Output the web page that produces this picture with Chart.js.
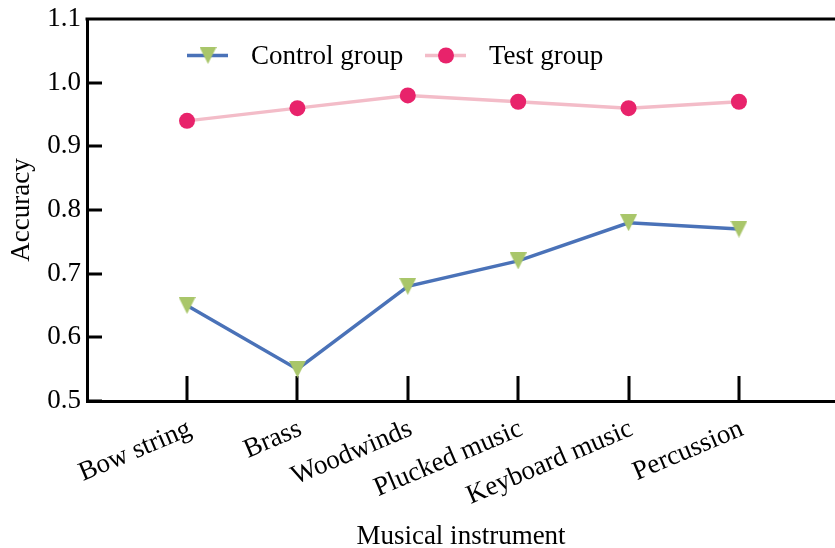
<!DOCTYPE html>
<html>
<head>
<meta charset="utf-8">
<script src="https://cdn.jsdelivr.net/npm/chart.js@4/dist/chart.umd.min.js"></script>
<style>
  html, body { margin: 0; padding: 0; background: #fff; }
  #wrap { width: 835px; height: 548px; }
</style>
</head>
<body>
<div id="wrap"><canvas id="c" width="835" height="548"></canvas></div>
<script>
// Instrument categories and accuracy per group
const categories = ['Bow string', 'Brass', 'Woodwinds', 'Plucked music', 'Keyboard music', 'Percussion'];
const controlGroup = [0.65, 0.55, 0.68, 0.72, 0.78, 0.77];
const testGroup = [0.94, 0.96, 0.98, 0.97, 0.96, 0.97];
const yTicks = [0.5, 0.6, 0.7, 0.8, 0.9, 1.0, 1.1];

const BLUE = '#4A72B8';
const GREEN = '#A9C66A';
const PINK_LINE = '#F3BCC8';
const PINK_DOT = '#E8236B';
const SERIF = "'Liberation Serif', 'Times New Roman', serif";
const FS = 27;

// Downward-pointing triangle marker (equal width and height)
function triangleDown(size, color) {
  const cv = document.createElement('canvas');
  cv.width = size; cv.height = size;
  const g = cv.getContext('2d');
  g.fillStyle = color;
  g.beginPath();
  g.moveTo(0, 0);
  g.lineTo(size, 0);
  g.lineTo(size / 2, size);
  g.closePath();
  g.fill();
  return cv;
}
const triMarker = triangleDown(17, GREEN);

// Frame: top border, inward y ticks, upward x ticks, and legend
const framePlugin = {
  id: 'frame',
  beforeDatasetsDraw(chart) {
    const { ctx, chartArea: a, scales: { x, y } } = chart;
    ctx.save();
    ctx.strokeStyle = '#000';
    ctx.lineWidth = 3;
    ctx.beginPath();
    ctx.moveTo(a.left - 1.5, a.top);
    ctx.lineTo(a.right, a.top);
    yTicks.forEach(v => {
      const py = Math.round(y.getPixelForValue(v));
      ctx.moveTo(a.left, py);
      ctx.lineTo(a.left + 15, py);
    });
    categories.forEach((_, i) => {
      const px = Math.round(x.getPixelForValue(i));
      ctx.moveTo(px, a.bottom);
      ctx.lineTo(px, a.bottom - 25);
    });
    ctx.stroke();
    ctx.restore();
  },
  afterDraw(chart) {
    const { ctx, chartArea: a } = chart;
    const ly = a.top + 36.5;
    ctx.save();
    ctx.lineWidth = 3.5;
    // Control group entry
    ctx.strokeStyle = BLUE;
    ctx.beginPath();
    ctx.moveTo(a.left + 100, ly); ctx.lineTo(a.left + 141, ly);
    ctx.stroke();
    ctx.drawImage(triMarker, a.left + 121 - 8.5, ly - 8.5);
    // Test group entry
    ctx.strokeStyle = PINK_LINE;
    ctx.beginPath();
    ctx.moveTo(a.left + 338, ly); ctx.lineTo(a.left + 379, ly);
    ctx.stroke();
    ctx.fillStyle = PINK_DOT;
    ctx.beginPath();
    ctx.arc(a.left + 359, ly, 8, 0, Math.PI * 2);
    ctx.fill();
    ctx.fillStyle = '#000';
    ctx.font = FS + 'px ' + SERIF;
    ctx.textBaseline = 'middle';
    ctx.textAlign = 'left';
    ctx.fillText('Control group', a.left + 164, ly + 1);
    ctx.fillText('Test group', a.left + 402, ly + 1);
    ctx.restore();
  }
};

Chart.defaults.font.family = SERIF;
Chart.defaults.color = '#000';

new Chart(document.getElementById('c'), {
  type: 'line',
  data: {
    datasets: [
      {
        label: 'Control group',
        data: controlGroup.map((v, i) => ({ x: i, y: v })),
        borderColor: BLUE,
        borderWidth: 3.5,
        pointStyle: triMarker,
        pointRadius: 8.5,
        tension: 0
      },
      {
        label: 'Test group',
        data: testGroup.map((v, i) => ({ x: i, y: v })),
        borderColor: PINK_LINE,
        backgroundColor: PINK_DOT,
        pointBackgroundColor: PINK_DOT,
        pointBorderWidth: 0,
        borderWidth: 3.5,
        pointStyle: 'circle',
        pointRadius: 8,
        tension: 0
      }
    ]
  },
  options: {
    responsive: false,
    animation: false,
    events: [],
    layout: { autoPadding: false, padding: { top: 19, right: 0, left: 0, bottom: 0 } },
    plugins: { legend: { display: false }, tooltip: { enabled: false } },
    scales: {
      x: {
        type: 'linear',
        min: -0.906,
        max: 5.87,
        afterBuildTicks(s) { s.ticks = categories.map((_, i) => ({ value: i })); },
        afterFit(s) { s.height = 147; s.paddingLeft = 0; s.paddingRight = 0; },
        grid: { display: false, drawTicks: false },
        border: { display: true, color: '#000', width: 3 },
        ticks: {
          autoSkip: false,
          minRotation: 23,
          maxRotation: 23,
          padding: 12,
          labelOffset: 3,
          font: { size: FS },
          callback: v => categories[v]
        },
        title: {
          display: true,
          text: 'Musical instrument',
          font: { size: FS, lineHeight: 0.85 },
          padding: { top: 0, bottom: 0 }
        }
      },
      y: {
        min: 0.5,
        max: 1.1,
        afterBuildTicks(s) { s.ticks = yTicks.map(v => ({ value: v })); },
        afterFit(s) { s.width = 87; s.paddingTop = 0; s.paddingBottom = 0; },
        grid: { display: false, drawTicks: false },
        border: { display: true, color: '#000', width: 3 },
        ticks: {
          padding: 6,
          font: { size: FS },
          callback: v => v.toFixed(1)
        },
        title: {
          display: true,
          text: 'Accuracy',
          font: { size: FS, lineHeight: 1.1 },
          padding: { top: 7, bottom: 0 }
        }
      }
    }
  },
  plugins: [framePlugin]
});
</script>
</body>
</html>
